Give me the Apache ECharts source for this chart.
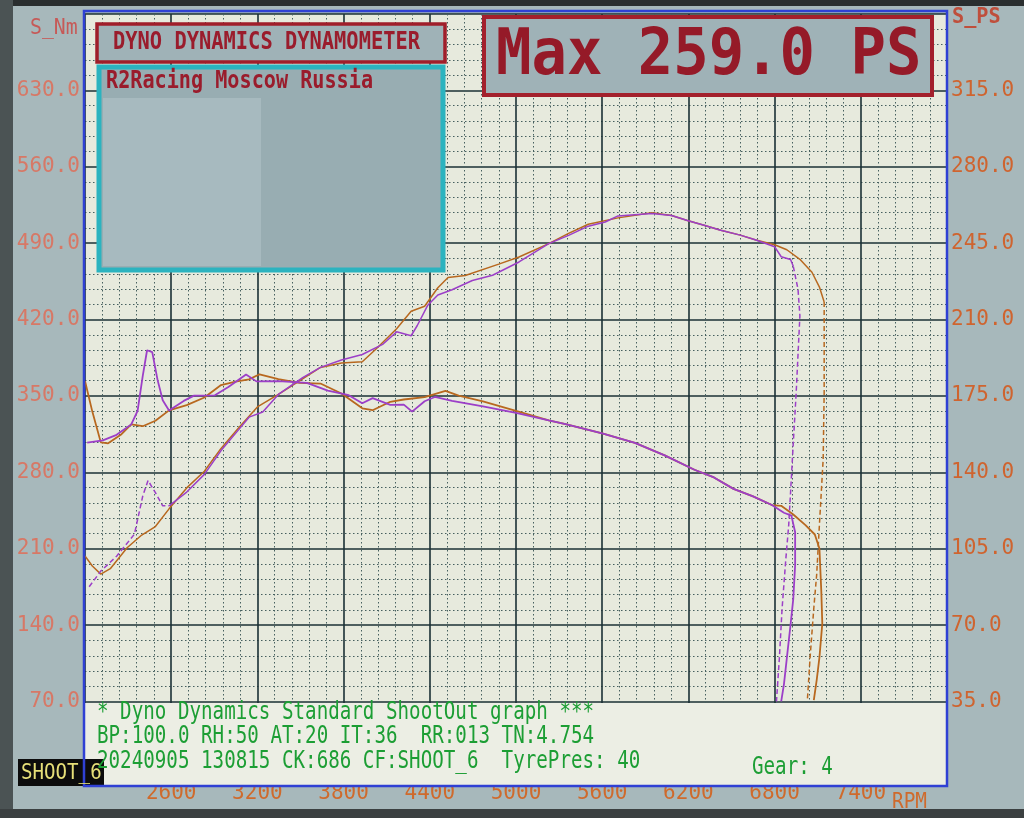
<!DOCTYPE html>
<html>
<head>
<meta charset="utf-8">
<script src="https://cdn.jsdelivr.net/npm/echarts@6.0.0/dist/echarts.min.js"></script>
<style>html,body{margin:0;padding:0;background:#a7b8bb;}#chart{width:1024px;height:818px;}</style>
</head>
<body>
<div id="chart"></div>
<script>
// ---- axis ticks ----
const rpmMin = 2000, rpmMax = 8000, rpmStep = 600;
const nmMax = 700, nmStep = 70;
const psMax = 350, psStep = 35;

// ---- Run A (purple) ----
const purplePowerEarlyRpm = [2029,2110,2220,2344,2402,2439,2490,2541,2585];
const purplePowerEarlyPs  = [87.6,94.8,101.6,111.7,129.2,136.3,130.7,124.7,124.7];
const purplePowerRpm = [2585,2708,2831,2947,3070,3142,3237,3346,3515,3639,3785,3930,4075,4169,4270,4313,4386,4456,4555,4696,4837,5021,5228,5366,5503,5621,5710,5945,6083,6193,6309,6425,6561,6670,6800,6846,6911,6930];
const purplePowerPs  = [124.7,131.0,139.1,150.0,159.6,165.3,167.7,175.7,183.4,188.1,191.5,194.0,198.8,204.4,202.6,207.3,216.6,221.3,223.7,227.9,230.3,236.4,244.8,248.6,252.8,254.7,257.5,258.6,257.7,255.4,253.2,250.9,248.7,246.5,243.4,238.8,237.5,234.4];
const purplePowerDropRpm = [6930,6963,6976,6950,6930,6911,6898,6878,6852,6833,6813];
const purplePowerDropPs  = [234.4,223.9,211.7,176.2,153.5,130.7,115.7,100.2,77.5,54.7,35.1];
const purpleTorqueRpm = [2015,2124,2220,2322,2366,2402,2432,2468,2505,2541,2585,2687,2759,2904,2998,3121,3193,3346,3544,3690,3836,3930,4002,4125,4219,4277,4364,4435,4555,4770,5000,5228,5345,5600,5828,6035,6242,6378,6514,6650,6781,6865,6917,6943,6943,6930,6911,6885,6865,6846];
const purpleTorqueNm  = [307.3,309.4,314.4,324.0,336.4,368.4,391.9,390.2,364.8,346.1,336.8,345.5,350.3,350.6,358.2,369.7,363.4,363.6,362.1,354.9,350.7,343.3,348.1,341.9,342.1,335.7,345.2,349.1,345.6,340.5,334.5,327.6,324.2,315.7,307.0,295.6,282.4,275.4,264.9,258.0,250.1,243.0,240.4,225.1,195.2,164.2,140.4,109.6,85.8,70.2];

// ---- Run B (orange) ----
const orangePowerRpm = [2000,2051,2110,2176,2293,2395,2490,2585,2708,2831,2947,3070,3200,3346,3493,3639,3785,3930,4024,4169,4270,4364,4456,4527,4647,4880,5021,5228,5366,5503,5710,5945,6083,6193,6309,6425,6561,6670,6800,6885,6976,7060,7112,7145];
const orangePowerPs  = [101.7,97.1,93.4,95.9,105.5,111.3,115.2,123.3,132.9,140.5,151.0,160.5,170.0,175.7,181.9,188.1,190.1,190.7,196.4,205.8,213.8,216.1,224.6,229.3,230.2,235.4,238.7,244.8,249.5,253.7,256.6,259.0,257.7,255.4,253.2,250.9,248.7,246.5,244.3,242.0,237.6,231.7,224.9,218.1];
const orangePowerDropRpm = [7145,7145,7145,7138,7112,7093,7073,7047,7028];
const orangePowerDropPs  = [218.1,211.8,176.4,146.0,116.0,93.3,77.9,55.2,35.5];
const orangeTorqueRpm = [2000,2051,2110,2161,2249,2322,2402,2490,2585,2708,2831,2947,3048,3142,3215,3346,3493,3639,3785,3930,4002,4125,4219,4364,4509,4601,4770,5000,5228,5345,5600,5828,6035,6242,6378,6514,6650,6781,6846,6930,7015,7080,7112,7125,7132,7112,7093,7073];
const orangeTorqueNm  = [363.8,335.7,307.5,306.6,314.4,324.0,322.3,327.3,336.8,341.7,348.6,360.0,363.1,365.2,369.9,365.5,362.0,361.4,352.3,338.7,337.0,344.7,346.8,348.9,354.7,350.3,345.1,336.3,327.6,324.2,315.7,307.0,295.6,282.4,275.4,264.9,258.0,250.1,249.4,241.4,231.7,223.1,210.3,171.3,141.4,110.4,89.6,71.3];

// ---- texts ----
const titleText = 'DYNO DYNAMICS DYNAMOMETER';
const customerText = 'R2Racing Moscow Russia';
const maxText = 'Max 259.0 PS';
const infoLines = [
  '* Dyno Dynamics Standard ShootOut graph ***',
  'BP:100.0 RH:50 AT:20 IT:36  RR:013 TN:4.754',
  '20240905 130815 CK:686 CF:SHOOT_6  TyrePres: 40'
];
const gearText = 'Gear: 4';
const fileText = 'SHOOT_6';

const PURPLE = '#9c3fc8';
const ORANGE = '#b8681f';
const MONO = '"DejaVu Sans Mono", "Liberation Mono", monospace';

function zip(a, b) { return a.map((v, i) => [v, b[i]]); }

function line(name, rpm, vals, axis, color, width, dashed, z) {
  return {
    name, type: 'line', yAxisIndex: axis, data: zip(rpm, vals),
    showSymbol: false, symbol: 'none', z: z,
    lineStyle: { color, width, type: dashed ? [5, 3] : 'solid' },
    animation: false
  };
}

const chart = echarts.init(document.getElementById('chart'), null, { renderer: 'canvas' });

function txt(x, y, text, font, fill, sx, extra) {
  return Object.assign({
    type: 'text', x, y, scaleX: sx || 1, z: 120,
    style: { text, font, fill, textAlign: 'left', textVerticalAlign: 'middle' }
  }, extra || {});
}

const option = {
  backgroundColor: '#a7b8bb',
  animation: false,
  grid: { left: 85, right: 77, top: 14, bottom: 40, show: true, backgroundColor: '#e7eadd', borderWidth: 0 },
  xAxis: {
    type: 'value', min: rpmMin, max: rpmMax, interval: rpmStep,
    axisLine: { show: false }, axisTick: { show: false },
    axisLabel: {
      color: '#cf6a2c', fontFamily: MONO, fontSize: 21, margin: 5,
      formatter: v => (v === rpmMin || v === rpmMax) ? '' : String(v)
    },
    splitLine: { show: true, lineStyle: { color: '#1b3035', width: 1.6 } },
    minorTick: { show: false, splitNumber: 5 },
    minorSplitLine: { show: true, lineStyle: { color: '#46605f', width: 1, type: [1.5, 2.5] } }
  },
  yAxis: [
    {
      type: 'value', min: 0, max: nmMax, interval: nmStep, position: 'left',
      axisLine: { show: false }, axisTick: { show: false },
      axisLabel: {
        color: '#d77866', fontFamily: MONO, fontSize: 21, margin: 5,
        formatter: v => (v === 0 || v === nmMax) ? '' : v.toFixed(1)
      },
      splitLine: { show: true, lineStyle: { color: '#1b3035', width: 1.6 } },
      minorTick: { show: false, splitNumber: 5 },
      minorSplitLine: { show: true, lineStyle: { color: '#46605f', width: 1, type: [1.5, 2.5] } }
    },
    {
      type: 'value', min: 0, max: psMax, interval: psStep, position: 'right',
      axisLine: { show: false }, axisTick: { show: false },
      axisLabel: {
        color: '#cf642f', fontFamily: MONO, fontSize: 21, margin: 4,
        formatter: v => (v === 0 || v === psMax) ? '' : v.toFixed(1)
      },
      splitLine: { show: false }
    }
  ],
  series: [
    line('Torque B', orangeTorqueRpm, orangeTorqueNm, 0, ORANGE, 1.8, false, 3),
    line('Power B', orangePowerRpm, orangePowerPs, 1, ORANGE, 1.5, false, 3),
    line('Power B rundown', orangePowerDropRpm, orangePowerDropPs, 1, ORANGE, 1.5, true, 3),
    line('Torque A', purpleTorqueRpm, purpleTorqueNm, 0, PURPLE, 1.8, false, 4),
    line('Power A start', purplePowerEarlyRpm, purplePowerEarlyPs, 1, PURPLE, 1.5, true, 4),
    line('Power A', purplePowerRpm, purplePowerPs, 1, PURPLE, 1.5, false, 4),
    line('Power A rundown', purplePowerDropRpm, purplePowerDropPs, 1, PURPLE, 1.5, true, 4)
  ],
  graphic: [
    // bezel
    { type: 'rect', shape: { x: 0, y: 0, width: 1024, height: 6 }, style: { fill: '#2a2e2f' }, z: 90 },
    { type: 'rect', shape: { x: 0, y: 0, width: 13, height: 818 }, style: { fill: '#4b5354' }, z: 90 },
    { type: 'rect', shape: { x: 0, y: 809, width: 1024, height: 9 }, style: { fill: '#3b4041' }, z: 90 },
    // info box at the bottom of the plot
    { type: 'rect', shape: { x: 85, y: 703, width: 862, height: 83 }, style: { fill: '#eceee4' }, z: 100 },
    // plot frame
    { type: 'rect', shape: { x: 84, y: 11, width: 863, height: 775 }, style: { fill: 'none', stroke: '#2f40d4', lineWidth: 2.5 }, z: 110 },
    // title box
    { type: 'rect', shape: { x: 97, y: 24, width: 348, height: 38 }, style: { fill: '#9fb2b7', stroke: '#a01e2a', lineWidth: 3.5 }, z: 105 },
    // customer box
    { type: 'rect', shape: { x: 99, y: 67, width: 344, height: 203 }, style: { fill: '#98adb2', stroke: '#2bb3bf', lineWidth: 5 }, z: 105 },
    { type: 'rect', shape: { x: 103, y: 98, width: 158, height: 168 }, style: { fill: '#a7babf' }, z: 106 },
    // max box
    { type: 'rect', shape: { x: 484, y: 17, width: 448, height: 78 }, style: { fill: '#9fb2b7', stroke: '#a3202c', lineWidth: 4 }, z: 105 },
    txt(113, 43, titleText, 'bold 24px ' + MONO, '#9a1c2c', 0.85),
    txt(106, 82, customerText, 'bold 24px ' + MONO, '#9a1c2c', 0.84),
    txt(496, 57, maxText, 'bold 64px ' + MONO, '#951a28', 0.92),
    // info text
    txt(97, 713, infoLines[0], '24px ' + MONO, '#1c9e34', 0.8),
    txt(97, 737, infoLines[1], '24px ' + MONO, '#1c9e34', 0.8),
    txt(97, 762, infoLines[2], '24px ' + MONO, '#1c9e34', 0.8),
    txt(752, 768, gearText, '24px ' + MONO, '#1c9e34', 0.8),
    // file label
    { type: 'rect', shape: { x: 18, y: 759, width: 86, height: 27 }, style: { fill: '#0c0c0c' }, z: 105 },
    txt(21, 773, fileText, '22px ' + MONO, '#e6df78', 0.87),
    // axis names
    txt(30, 28, 'S_Nm', '22px ' + MONO, '#c65a58', 0.9),
    txt(952, 17, 'S_PS', 'bold 22px ' + MONO, '#bf4f3c', 0.92),
    txt(892, 802, 'RPM', '22px ' + MONO, '#cf6a2c', 0.88)
  ]
};
chart.setOption(option);
</script>
</body>
</html>
